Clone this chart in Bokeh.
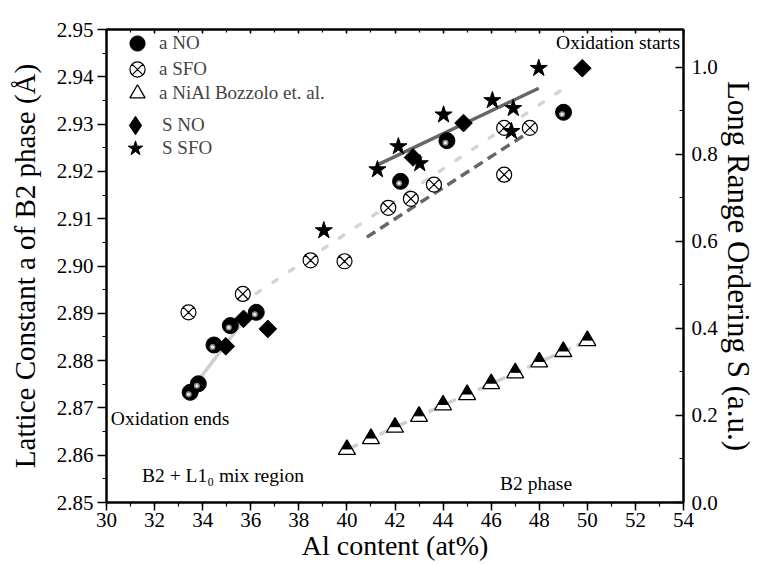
from bokeh.plotting import figure
from bokeh.models import (Range1d, LinearAxis, Legend, LegendItem, Label,
                          SingleIntervalTicker, PrintfTickFormatter)
from bokeh.embed import file_html
from bokeh.resources import INLINE
import math

# ---------------- data ----------------
# lattice constant a, NO samples (left axis, Angstrom)
a_no_x = [33.48, 33.82, 34.47, 35.15, 36.23, 42.23, 44.16, 49.01]
a_no_y = [2.8733, 2.8751, 2.8833, 2.8874, 2.8902, 2.9179, 2.9265, 2.9325]
# lattice constant a, SFO samples
a_sfo_x = [33.41, 35.67, 38.49, 39.90, 41.72, 42.66, 43.62, 46.54, 46.54, 47.61]
a_sfo_y = [2.8902, 2.8941, 2.9012, 2.9010, 2.9123, 2.9142, 2.9172, 2.9193, 2.9292, 2.9292]
# NiAl, Bozzolo et al.
nial_x = [40, 41, 42, 43, 44, 45, 46, 47, 48, 49, 50]
nial_y = [2.8612, 2.8635, 2.8659, 2.8682, 2.8706, 2.8728, 2.8751, 2.8774, 2.8797, 2.8819, 2.8842]
# long range ordering S (right axis)
s_no_x = [34.96, 35.70, 36.71, 42.75, 44.85, 49.79]
s_no_y = [0.359, 0.422, 0.399, 0.793, 0.872, 0.998]
s_sfo_x = [39.04, 41.27, 42.14, 43.03, 44.02, 46.05, 46.92, 46.84, 47.98]
s_sfo_y = [0.625, 0.765, 0.818, 0.779, 0.891, 0.924, 0.906, 0.853, 0.998]
# trend lines (end points)
low_fit_x = [33.61, 36.23]
low_fit_y = [2.8744, 2.8920]
trend_x = [36.23, 49.01]
trend_y = [2.8942, 2.9375]
sfo_fit_x = [40.83, 47.57]
sfo_fit_y = [2.9061, 2.9283]
s_fit_x = [41.27, 47.98]
s_fit_y = [0.776, 0.952]

FONT = "Liberation Serif"
X0, X1, Y0, Y1 = 30, 54, 2.85, 2.95
FRAME_W, FRAME_H = 582, 473
px_x = (X1 - X0) / FRAME_W      # data units per pixel (x)
px_y = (Y1 - Y0) / FRAME_H      # data units per pixel (left y)

p = figure(width=758, height=564, x_range=Range1d(X0, X1), y_range=Range1d(Y0, Y1),
           output_backend="svg", toolbar_location=None,
           min_border_left=106, min_border_right=70, min_border_top=29, min_border_bottom=62)
p.extra_y_ranges = {"S": Range1d(0, 1.087)}
p.grid.visible = False
p.outline_line_color = "black"
p.outline_line_width = 2
p.background_fill_color = "white"
p.border_fill_color = "white"

# axes
xa = p.xaxis[0]
xa.ticker = SingleIntervalTicker(interval=2, num_minor_ticks=2)
xa.formatter = PrintfTickFormatter(format="%d")
xa.axis_label = "Al content (at%)"
ya = p.yaxis[0]
ya.ticker = SingleIntervalTicker(interval=0.01, num_minor_ticks=2)
ya.formatter = PrintfTickFormatter(format="%.2f")
ya.axis_label = "Lattice Constant a of B2 phase (Å)"

ra = LinearAxis(y_range_name="S", axis_label="Long Range Ordering S (a.u.)",
                ticker=SingleIntervalTicker(interval=0.2, num_minor_ticks=2),
                formatter=PrintfTickFormatter(format="%.1f"))
p.add_layout(ra, "right")
ta = LinearAxis(ticker=SingleIntervalTicker(interval=2, num_minor_ticks=2))
p.add_layout(ta, "above")

for ax in (xa, ya, ra, ta):
    ax.axis_line_width = 2
    ax.axis_line_color = "black"
    ax.major_tick_line_width = 1.5
    ax.minor_tick_line_width = 1.2
    ax.major_label_text_font = FONT
    ax.major_label_text_font_size = "21px"
    ax.major_label_text_color = "black"
    ax.axis_label_text_font = FONT
    ax.axis_label_text_font_style = "normal"
    ax.axis_label_text_color = "black"

xa.axis_label_text_font_size = "28px"
ya.axis_label_text_font_size = "29px"
ra.axis_label_text_font_size = "31px"

xa.major_tick_in, xa.major_tick_out, xa.minor_tick_in, xa.minor_tick_out = 0, 8, 0, 4
xa.major_label_standoff = 2
xa.axis_label_standoff = 0
ya.major_tick_in, ya.major_tick_out, ya.minor_tick_in, ya.minor_tick_out = 0, 9, 0, 4
ya.major_label_standoff = 4
ya.axis_label_standoff = 13
ra.major_tick_in, ra.major_tick_out, ra.minor_tick_in, ra.minor_tick_out = 8, 0, 4, 0
ra.major_label_standoff = 8
ra.axis_label_standoff = 0
ta.major_tick_in, ta.major_tick_out, ta.minor_tick_in, ta.minor_tick_out = 4, 0, 3, 0
ta.major_label_text_font_size = "1px"
ta.major_label_text_color = None
ta.major_label_standoff = 0
ta.axis_label = None

# trend lines
p.line(low_fit_x, low_fit_y, line_color="#cfcfcf", line_width=3.5)
p.line(trend_x, trend_y, line_color="#d4d4d4", line_width=3.5, line_dash="5 15", line_cap="round")
p.line(sfo_fit_x, sfo_fit_y, line_color="#666666", line_width=3.5, line_dash="10 6")
p.line(s_fit_x, s_fit_y, line_color="#666666", line_width=3.5, y_range_name="S")
p.line(nial_x, nial_y, line_color="#cfcfcf", line_width=3.5, line_dash="12 6")

# markers
r_sfo = p.scatter(a_sfo_x, a_sfo_y, marker="circle_x", size=15, fill_color="white",
                  line_color="black", line_width=1.2)
r_no1 = p.scatter(a_no_x, a_no_y, marker="circle", size=16, fill_color="black", line_color="black")
# highlight of the sphere-like marker, slightly left and below the centre
hl_x = [v - 1.5 * px_x for v in a_no_x]
hl_y = [v - 2.0 * px_y for v in a_no_y]
p.scatter(hl_x, hl_y, marker="circle", size=6, fill_color="#8c8c8c", line_color=None)
p.scatter(hl_x, hl_y, marker="circle", size=3, fill_color="#f0f0f0", line_color=None)

tri_dy = 3.5 * px_y  # shift of the inner (black) triangle so that apexes coincide
r_tri1 = p.scatter(nial_x, nial_y, marker="triangle", size=17, fill_color="white",
                   line_color="black", line_width=1.3)
r_tri2 = p.scatter(nial_x, [v + tri_dy for v in nial_y], marker="triangle", size=10,
                   fill_color="black", line_color="black")

# diamond drawn under the rotated squares: used as the legend swatch
# (legend swatches ignore the marker angle)
r_sno_leg = p.scatter(s_no_x, s_no_y, marker="diamond", size=12, fill_color="black",
                      line_color="black", y_range_name="S")
r_sno = p.scatter(s_no_x, s_no_y, marker="square", size=12.5, angle=math.pi / 4,
                  fill_color="black", line_color="black", y_range_name="S")
r_ssfo = p.scatter(s_sfo_x, s_sfo_y, marker="star", size=18, fill_color="black",
                   line_color="black", y_range_name="S")

# legends: one per entry so that rows can sit closer than the swatch height
FS = "19px"
legend_rows = [
    ("a NO", [r_no1], 12, 440, 3, 38),
    ("a SFO", [r_sfo], 12, 414, 3, 38),
    ("a NiAl Bozzolo et. al.", [r_tri1], 12, 390, 3, 38),
    ("S NO", [r_sno_leg], 6, 354, 4, 46),
    ("S SFO", [r_ssfo], 10, 335, 8, 38),
]
for text, rends, lx, ly, stand, gsize in legend_rows:
    lg = Legend(items=[LegendItem(label=text, renderers=rends)], location=(lx, ly),
                label_standoff=stand, border_line_color=None, background_fill_alpha=0,
                padding=0, margin=0, glyph_height=gsize, glyph_width=gsize, label_height=20,
                spacing=0, label_text_font=FONT, label_text_font_size=FS,
                label_text_baseline="middle")
    p.add_layout(lg, "center")

# annotations
lab = dict(text_font=FONT, text_font_size="19.5px", text_baseline="middle", text_color="black")
p.add_layout(Label(x=48.70, y=2.9473, text="Oxidation starts", **lab))
p.add_layout(Label(x=30.18, y=2.8678, text="Oxidation ends", **lab))
p.add_layout(Label(x=31.48, y=2.8557, text="B2 + L1₀ mix region", **lab))
p.add_layout(Label(x=46.37, y=2.8540, text="B2 phase", **lab))

open("out.html", "w").write(file_html(p, INLINE))
